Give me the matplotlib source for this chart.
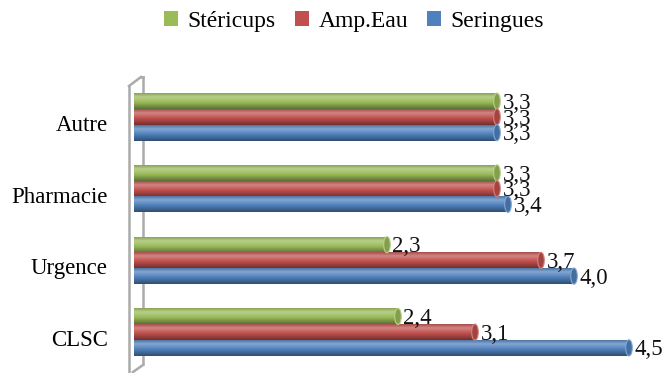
import matplotlib.pyplot as plt
import numpy as np
from matplotlib.colors import LinearSegmentedColormap, to_rgb
from matplotlib.lines import Line2D
from matplotlib.patches import Ellipse, Patch
from matplotlib.transforms import IdentityTransform, ScaledTranslation

plt.rcParams['font.family'] = 'Liberation Serif'

categories = ['CLSC', 'Urgence', 'Pharmacie', 'Autre']
series = ['Stéricups', 'Amp.Eau', 'Seringues']
stericups = [2.4, 2.3, 3.3, 3.3]
amp_eau = [3.1, 3.7, 3.3, 3.3]
seringues = [4.5, 4.0, 3.4, 3.3]
colors = ['#9BBB59', '#C0504D', '#4F81BD']


def shade(c, f):
    c = np.array(to_rgb(c))
    if f > 0:
        return tuple(c + (1 - c) * f)
    return tuple(c * (1 + f))


fig = plt.figure(figsize=(6.68, 3.73), dpi=100)
W, H = 668, 373
ax = fig.add_axes([134 / W, 5 / H, 530 / W, 287 / H])

y = np.arange(len(categories))
bar_h = 0.225
step = 0.219
grad = np.linspace(0, 1, 64).reshape(-1, 1)

for i, (vals, col) in enumerate(zip([stericups, amp_eau, seringues], colors)):
    # green on top, blue at the bottom of each group
    offs = y + (1 - i) * step
    cmap = LinearSegmentedColormap.from_list(
        'cyl', [(0, shade(col, -0.2)), (0.28, shade(col, 0.3)),
                (0.6, col), (1, shade(col, -0.4))])
    for yy, v in zip(offs, vals):
        bars = ax.barh(yy, v, height=bar_h, color=col, edgecolor='none', zorder=2)
        rect = bars.patches[0]
        im = ax.imshow(grad, cmap=cmap, aspect='auto', zorder=2.1,
                       extent=(0, v, yy - bar_h / 2, yy + bar_h / 2),
                       origin='upper', interpolation='bilinear')
        im.set_clip_path(rect)
        # rounded end of the cylinder
        ax.add_patch(Ellipse((v, yy), 0.06, bar_h, facecolor=shade(col, -0.15),
                             edgecolor=shade(col, 0.3), lw=0.8, zorder=2.2))
        ax.text(v + 0.05, yy - 0.03, f'{v:.1f}'.replace('.', ','),
                fontsize=16.5, va='center', ha='left', color='#111111',
                zorder=5, clip_on=False)

ax.set_xlim(0, 530 / 110)
ax.set_ylim(-0.5, 3.5)

ax.set_yticks(y)
ax.set_yticklabels(categories, fontsize=16.5)
ax.tick_params(axis='y', length=0, pad=19)
for lab in ax.get_yticklabels():
    lab.set_transform(lab.get_transform() + ScaledTranslation(0, -6 / 100, fig.dpi_scale_trans))
ax.set_xticks([])
for s in ax.spines.values():
    s.set_visible(False)

# thin 3D wall behind the bars (pixel coordinates)
def px(xs, ys):
    return np.array(xs), H - np.array(ys)

wall = '#ABABAB'
for xs, ys in [([129, 129], [86, 372]), ([129, 141], [86, 77]),
               ([141, 143], [77, 77]), ([143, 143], [77, 364]),
               ([133, 143], [372, 365])]:
    xx, yy = px(xs, ys)
    ax.add_line(Line2D(xx, yy, transform=IdentityTransform(), color=wall,
                       lw=1.8, zorder=0.5, clip_on=False))

handles = [Patch(facecolor=c, edgecolor='none') for c in colors]
fig.legend(handles, series, loc='center', bbox_to_anchor=(354 / W, 1 - 21 / H),
           ncol=3, frameon=False, fontsize=17, handlelength=0.6, handleheight=0.6,
           handletextpad=0.4, columnspacing=0.8, borderpad=0)

fig.savefig('out.png', dpi=100)
